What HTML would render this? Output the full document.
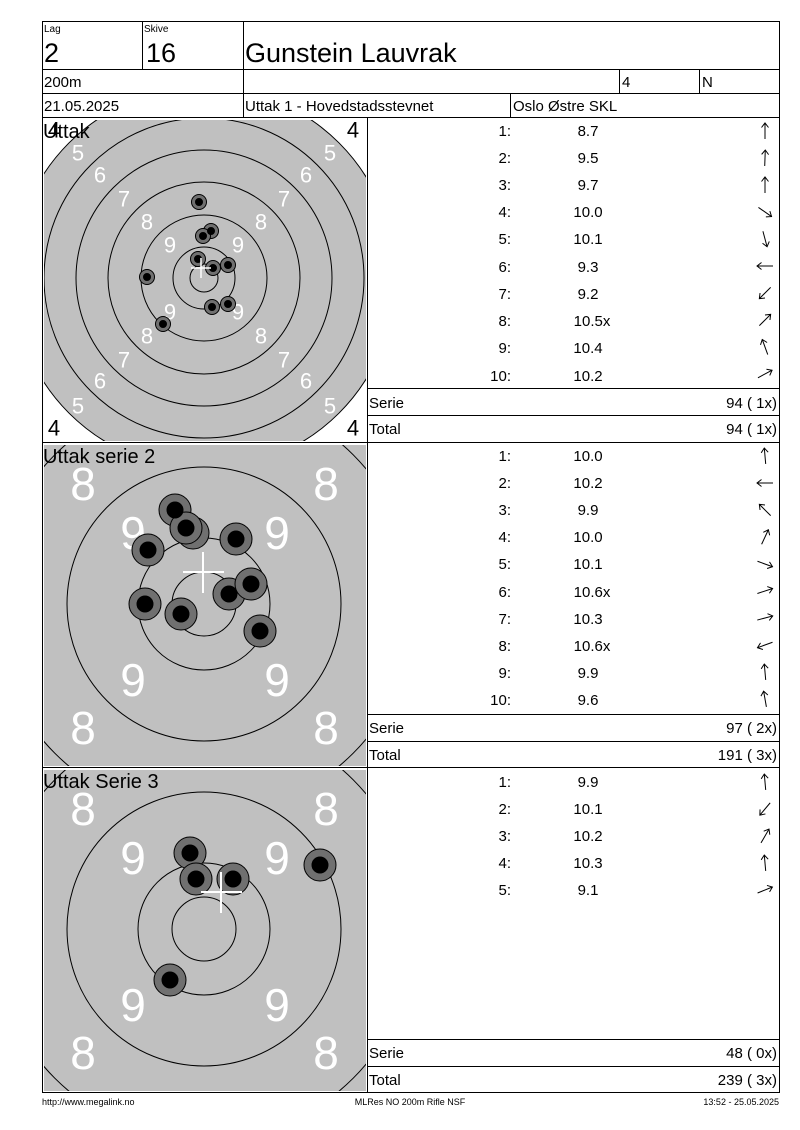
<!DOCTYPE html>
<html><head><meta charset="utf-8"><style>
html,body{margin:0;padding:0;background:#fff}
svg{display:block}
text{font-family:"Liberation Sans",sans-serif}
</style></head><body>
<svg width="800" height="1130" viewBox="0 0 800 1130" xmlns="http://www.w3.org/2000/svg">
<defs>
<clipPath id="c1"><rect x="44" y="120" width="322" height="321"/></clipPath>
<clipPath id="c2"><rect x="44" y="445" width="322" height="321"/></clipPath>
<clipPath id="c3"><rect x="44" y="770" width="322" height="321"/></clipPath>
<g id="ar"><line x1="0" y1="8" x2="0" y2="-8" stroke="#000" stroke-width="1"/><path d="M-3.5,-3.5 L0,-8 L3.5,-3.5" fill="none" stroke="#000" stroke-width="1"/></g>
</defs>

<!-- Panel 1 target -->
<g clip-path="url(#c1)">
<circle cx="204" cy="278" r="191" fill="#c0c0c0" stroke="#000" stroke-width="1"/>
<g fill="none" stroke="#000" stroke-width="1">
<circle cx="204" cy="278" r="160"/><circle cx="204" cy="278" r="128"/><circle cx="204" cy="278" r="96"/><circle cx="204" cy="278" r="63"/><circle cx="204" cy="278" r="31"/><circle cx="204" cy="278" r="14"/>
</g>
<g fill="#fff" font-size="22" text-anchor="middle" dominant-baseline="central">
<text x="78" y="153">5</text><text x="100" y="175">6</text><text x="124" y="199">7</text><text x="147" y="222">8</text><text x="170" y="245">9</text>
<text x="330" y="153">5</text><text x="306" y="175">6</text><text x="284" y="199">7</text><text x="261" y="222">8</text><text x="238" y="245">9</text>
<text x="78" y="406">5</text><text x="100" y="381">6</text><text x="124" y="360">7</text><text x="147" y="336">8</text><text x="170" y="312">9</text>
<text x="330" y="406">5</text><text x="306" y="381">6</text><text x="284" y="360">7</text><text x="261" y="336">8</text><text x="238" y="312">9</text>
</g>
<g fill="#000" font-size="22" text-anchor="middle" dominant-baseline="central">
<text x="54" y="130">4</text><text x="353" y="130">4</text><text x="54" y="428">4</text><text x="353" y="428">4</text>
</g>
<g stroke="#000" stroke-width="1">
<g fill="#707070"><circle cx="199" cy="202" r="7.5"/><circle cx="211" cy="231" r="7.5"/><circle cx="203" cy="236" r="7.5"/><circle cx="198" cy="259" r="7.5"/><circle cx="213" cy="268" r="7.5"/><circle cx="228" cy="265" r="7.5"/><circle cx="147" cy="277" r="7.5"/><circle cx="228" cy="304" r="7.5"/><circle cx="212" cy="307" r="7.5"/><circle cx="163" cy="324" r="7.5"/></g>
<g fill="#000"><circle cx="199" cy="202" r="3.5"/><circle cx="211" cy="231" r="3.5"/><circle cx="203" cy="236" r="3.5"/><circle cx="198" cy="259" r="3.5"/><circle cx="213" cy="268" r="3.5"/><circle cx="228" cy="265" r="3.5"/><circle cx="147" cy="277" r="3.5"/><circle cx="228" cy="304" r="3.5"/><circle cx="212" cy="307" r="3.5"/><circle cx="163" cy="324" r="3.5"/></g>
</g>
<g stroke="#fff" stroke-width="1.5"><line x1="191" y1="268" x2="211" y2="268"/><line x1="201" y1="258" x2="201" y2="278"/></g>
<text x="43" y="138" font-size="20" fill="#000">Uttak</text>
</g>

<!-- Panel 2 target -->
<g clip-path="url(#c2)">
<rect x="44" y="445" width="322" height="321" fill="#c0c0c0"/>
<g fill="none" stroke="#000" stroke-width="1">
<circle cx="204" cy="604" r="211"/><circle cx="204" cy="604" r="137"/><circle cx="204" cy="604" r="66"/><circle cx="204" cy="604" r="32"/>
</g>
<g fill="#fff" font-size="46" text-anchor="middle" dominant-baseline="central">
<text x="83" y="484">8</text><text x="326" y="484">8</text><text x="133" y="533">9</text><text x="277" y="533">9</text>
<text x="133" y="680">9</text><text x="277" y="680">9</text><text x="83" y="728">8</text><text x="326" y="728">8</text>
</g>
<g stroke="#000" stroke-width="1">
<g fill="#707070"><circle cx="175" cy="510" r="16"/><circle cx="193" cy="533" r="16"/><circle cx="186" cy="528" r="16"/><circle cx="236" cy="539" r="16"/><circle cx="148" cy="550" r="16"/><circle cx="229" cy="594" r="16"/><circle cx="251" cy="584" r="16"/><circle cx="145" cy="604" r="16"/><circle cx="181" cy="614" r="16"/><circle cx="260" cy="631" r="16"/></g>
<g fill="#000"><circle cx="175" cy="510" r="8"/><circle cx="186" cy="528" r="8"/><circle cx="236" cy="539" r="8"/><circle cx="148" cy="550" r="8"/><circle cx="229" cy="594" r="8"/><circle cx="251" cy="584" r="8"/><circle cx="145" cy="604" r="8"/><circle cx="181" cy="614" r="8"/><circle cx="260" cy="631" r="8"/></g>
</g>
<g stroke="#fff" stroke-width="2"><line x1="183" y1="572" x2="224" y2="572"/><line x1="203" y1="552" x2="203" y2="593"/></g>
<text x="43" y="463" font-size="20" fill="#000">Uttak serie 2</text>
</g>

<!-- Panel 3 target -->
<g clip-path="url(#c3)">
<rect x="44" y="770" width="322" height="321" fill="#c0c0c0"/>
<g fill="none" stroke="#000" stroke-width="1">
<circle cx="204" cy="929" r="211"/><circle cx="204" cy="929" r="137"/><circle cx="204" cy="929" r="66"/><circle cx="204" cy="929" r="32"/>
</g>
<g fill="#fff" font-size="46" text-anchor="middle" dominant-baseline="central">
<text x="83" y="809">8</text><text x="326" y="809">8</text><text x="133" y="858">9</text><text x="277" y="858">9</text>
<text x="133" y="1005">9</text><text x="277" y="1005">9</text><text x="83" y="1053">8</text><text x="326" y="1053">8</text>
</g>
<g stroke="#000" stroke-width="1">
<g fill="#707070"><circle cx="190" cy="853" r="16"/><circle cx="196" cy="879" r="16"/><circle cx="233" cy="879" r="16"/><circle cx="320" cy="865" r="16"/><circle cx="170" cy="980" r="16"/></g>
<g fill="#000"><circle cx="190" cy="853" r="8"/><circle cx="196" cy="879" r="8"/><circle cx="233" cy="879" r="8"/><circle cx="320" cy="865" r="8"/><circle cx="170" cy="980" r="8"/></g>
</g>
<g stroke="#fff" stroke-width="2"><line x1="201" y1="892" x2="242" y2="892"/><line x1="221" y1="872" x2="221" y2="913"/></g>
<text x="43" y="788" font-size="20" fill="#000">Uttak Serie 3</text>
</g>

<!-- Grid lines -->
<g stroke="#000" stroke-width="1" fill="none">
<rect x="42.5" y="21.5" width="737" height="1071"/>
<line x1="142.5" y1="21" x2="142.5" y2="69"/>
<line x1="243.5" y1="21" x2="243.5" y2="118"/>
<line x1="42" y1="69.5" x2="780" y2="69.5"/>
<line x1="619.5" y1="69" x2="619.5" y2="93"/>
<line x1="699.5" y1="69" x2="699.5" y2="93"/>
<line x1="42" y1="93.5" x2="780" y2="93.5"/>
<line x1="510.5" y1="93" x2="510.5" y2="117"/>
<line x1="42" y1="117.5" x2="780" y2="117.5"/>
<line x1="367.5" y1="117" x2="367.5" y2="1093"/>
<line x1="42" y1="442.5" x2="780" y2="442.5"/>
<line x1="42" y1="767.5" x2="780" y2="767.5"/>
<line x1="367" y1="388.5" x2="780" y2="388.5"/>
<line x1="367" y1="415.5" x2="780" y2="415.5"/>
<line x1="367" y1="714.5" x2="780" y2="714.5"/>
<line x1="367" y1="741.5" x2="780" y2="741.5"/>
<line x1="367" y1="1039.5" x2="780" y2="1039.5"/>
<line x1="367" y1="1066.5" x2="780" y2="1066.5"/>
</g>

<!-- Header -->
<g fill="#000">
<text x="44" y="32" font-size="10">Lag</text>
<text x="144" y="32" font-size="10">Skive</text>
<text x="44" y="62" font-size="27">2</text>
<text x="146" y="62" font-size="27">16</text>
<text x="245" y="62" font-size="27">Gunstein Lauvrak</text>
<text x="44" y="87" font-size="15">200m</text>
<text x="622" y="87" font-size="15">4</text>
<text x="702" y="87" font-size="15">N</text>
<text x="44" y="111" font-size="15">21.05.2025</text>
<text x="245" y="111" font-size="15">Uttak 1 - Hovedstadsstevnet</text>
<text x="513" y="111" font-size="15">Oslo Østre SKL</text>
</g>

<!-- Tables -->
<g fill="#000" font-size="15">
<g text-anchor="end">
<text x="511" y="136">1:</text><text x="511" y="163">2:</text><text x="511" y="190">3:</text><text x="511" y="217">4:</text><text x="511" y="244">5:</text><text x="511" y="272">6:</text><text x="511" y="299">7:</text><text x="511" y="326">8:</text><text x="511" y="353">9:</text><text x="511" y="381">10:</text>
<text x="511" y="461">1:</text><text x="511" y="488">2:</text><text x="511" y="515">3:</text><text x="511" y="542">4:</text><text x="511" y="569">5:</text><text x="511" y="597">6:</text><text x="511" y="624">7:</text><text x="511" y="651">8:</text><text x="511" y="678">9:</text><text x="511" y="705">10:</text>
<text x="511" y="787">1:</text><text x="511" y="814">2:</text><text x="511" y="841">3:</text><text x="511" y="868">4:</text><text x="511" y="895">5:</text>
<text x="777" y="408">94 ( 1x)</text><text x="777" y="434">94 ( 1x)</text>
<text x="777" y="733">97 ( 2x)</text><text x="777" y="760">191 ( 3x)</text>
<text x="777" y="1058">48 ( 0x)</text><text x="777" y="1085">239 ( 3x)</text>
</g>
<g text-anchor="middle">
<text x="588" y="136">8.7</text><text x="588" y="163">9.5</text><text x="588" y="190">9.7</text><text x="588" y="217">10.0</text><text x="588" y="244">10.1</text><text x="588" y="272">9.3</text><text x="588" y="299">9.2</text><text x="592" y="326">10.5x</text><text x="588" y="353">10.4</text><text x="588" y="381">10.2</text>
<text x="588" y="461">10.0</text><text x="588" y="488">10.2</text><text x="588" y="515">9.9</text><text x="588" y="542">10.0</text><text x="588" y="569">10.1</text><text x="592" y="597">10.6x</text><text x="588" y="624">10.3</text><text x="592" y="651">10.6x</text><text x="588" y="678">9.9</text><text x="588" y="705">9.6</text>
<text x="588" y="787">9.9</text><text x="588" y="814">10.1</text><text x="588" y="841">10.2</text><text x="588" y="868">10.3</text><text x="588" y="895">9.1</text>
</g>
<text x="369" y="408">Serie</text><text x="369" y="434">Total</text>
<text x="369" y="733">Serie</text><text x="369" y="760">Total</text>
<text x="369" y="1058">Serie</text><text x="369" y="1085">Total</text>
</g>

<!-- Arrows -->
<use href="#ar" transform="translate(765,131) rotate(0)"/>
<use href="#ar" transform="translate(765,158) rotate(2)"/>
<use href="#ar" transform="translate(765,185) rotate(0)"/>
<use href="#ar" transform="translate(765,212) rotate(125)"/>
<use href="#ar" transform="translate(765,239) rotate(165)"/>
<use href="#ar" transform="translate(765,266) rotate(270)"/>
<use href="#ar" transform="translate(765,293) rotate(225)"/>
<use href="#ar" transform="translate(765,320) rotate(45)"/>
<use href="#ar" transform="translate(765,347) rotate(340)"/>
<use href="#ar" transform="translate(765,374) rotate(62)"/>

<use href="#ar" transform="translate(765,456) rotate(355)"/>
<use href="#ar" transform="translate(765,483) rotate(270)"/>
<use href="#ar" transform="translate(765,510) rotate(315)"/>
<use href="#ar" transform="translate(765,537) rotate(25)"/>
<use href="#ar" transform="translate(765,564) rotate(110)"/>
<use href="#ar" transform="translate(765,591) rotate(72)"/>
<use href="#ar" transform="translate(765,618) rotate(75)"/>
<use href="#ar" transform="translate(765,645) rotate(250)"/>
<use href="#ar" transform="translate(765,672) rotate(355)"/>
<use href="#ar" transform="translate(765,699) rotate(350)"/>

<use href="#ar" transform="translate(765,782) rotate(355)"/>
<use href="#ar" transform="translate(765,809) rotate(220)"/>
<use href="#ar" transform="translate(765,836) rotate(30)"/>
<use href="#ar" transform="translate(765,863) rotate(355)"/>
<use href="#ar" transform="translate(765,890) rotate(68)"/>

<!-- Footer -->
<g fill="#000" font-size="9">
<text x="42" y="1105">http://www.megalink.no</text>
<text x="410" y="1105" text-anchor="middle">MLRes NO 200m Rifle NSF</text>
<text x="779" y="1105" text-anchor="end">13:52 - 25.05.2025</text>
</g>
</svg>
</body></html>
